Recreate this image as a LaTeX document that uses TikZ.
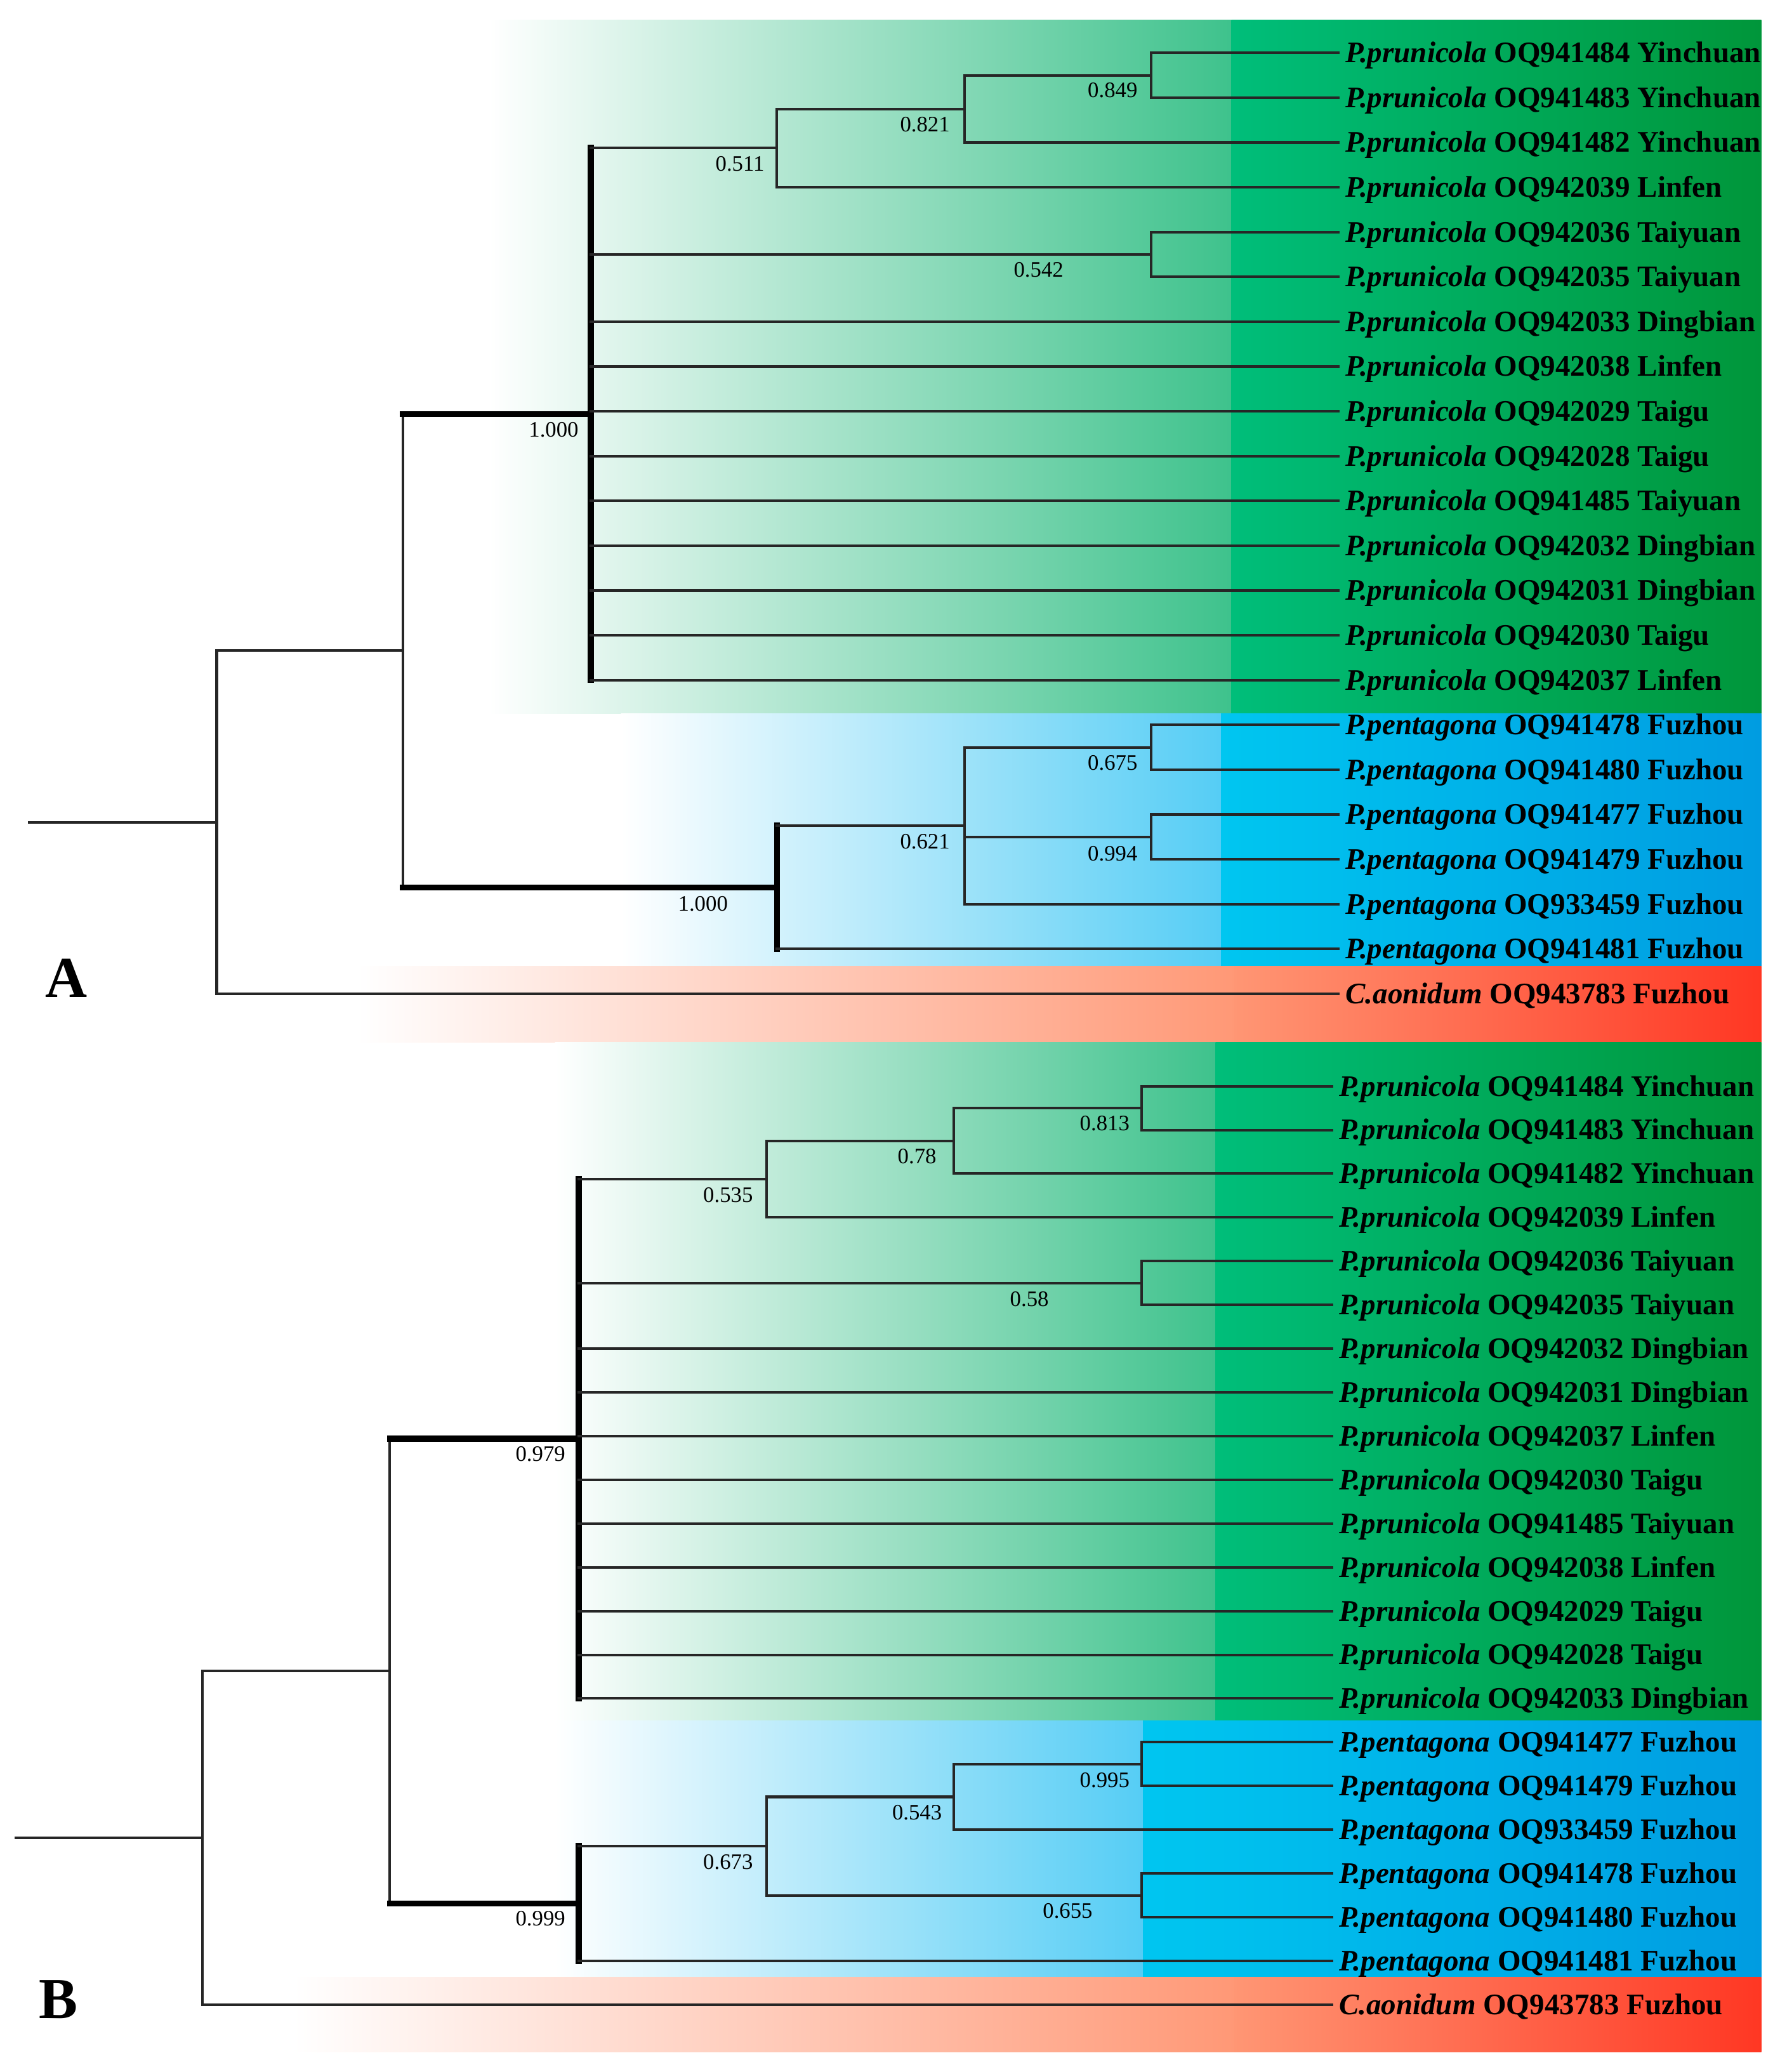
\documentclass[tikz,border=0pt]{standalone}
\usepackage{fontspec}
\setmainfont{Liberation Serif}
\usetikzlibrary{calc}
\definecolor{gmid}{RGB}{62,194,140}
\definecolor{gsat}{RGB}{0,190,122}
\definecolor{gend}{RGB}{0,150,58}
\definecolor{bmid}{RGB}{85,205,245}
\definecolor{bsat}{RGB}{0,198,240}
\definecolor{bend}{RGB}{0,156,225}
\definecolor{rmid}{RGB}{255,152,118}
\definecolor{rsat}{RGB}{255,150,116}
\definecolor{rend}{RGB}{255,55,35}
\begin{document}
\begin{tikzpicture}[x=0.02cm,y=-0.02cm,
  br/.style={line width=1.1pt, draw=black!85, line cap=rect},
  thk/.style={line width=2.6pt, draw=black, line cap=rect},
  leaf/.style={anchor=base west, inner sep=0pt, font=\fontsize{12.85}{14}\selectfont\bfseries},
  bs/.style={inner sep=0pt, font=\fontsize{9.5}{11}\selectfont},
  panel/.style={inner sep=0pt, font=\fontsize{25}{28}\selectfont\bfseries}]
\useasboundingbox (0,0) rectangle (1347,1568);
\fill[white] (0,0) rectangle (1347,1568);

% ---------- background bands, panel A ----------
\shade[left color=white, right color=gmid] (370,15) rectangle (933,540);
\shade[left color=gsat, right color=gend] (932,15) rectangle (1333,540);
\shade[left color=white, right color=bmid] (470,540) rectangle (925,731);
\shade[left color=bsat, right color=bend] (924,540) rectangle (1333,731);
\shade[left color=white, right color=rmid] (270,731) rectangle (935,789);
\shade[left color=rsat, right color=rend] (934,731) rectangle (1333,789);
% ---------- background bands, panel B ----------
\shade[left color=white, right color=gmid] (420,789) rectangle (921,1302);
\shade[left color=gsat, right color=gend] (920,789) rectangle (1333,1302);
\shade[left color=white, right color=bmid] (420,1302) rectangle (866,1496);
\shade[left color=bsat, right color=bend] (865,1302) rectangle (1333,1496);
\shade[left color=white, right color=rmid] (222,1496) rectangle (935,1553);
\shade[left color=rsat, right color=rend] (934,1496) rectangle (1333,1553);

% ---------- leaves, panel A ----------
\foreach \i/\g/\r in {
  0/P.prunicola/OQ941484 Yinchuan, 1/P.prunicola/OQ941483 Yinchuan,
  2/P.prunicola/OQ941482 Yinchuan, 3/P.prunicola/OQ942039 Linfen,
  4/P.prunicola/OQ942036 Taiyuan, 5/P.prunicola/OQ942035 Taiyuan,
  6/P.prunicola/OQ942033 Dingbian, 7/P.prunicola/OQ942038 Linfen,
  8/P.prunicola/OQ942029 Taigu, 9/P.prunicola/OQ942028 Taigu,
  10/P.prunicola/OQ941485 Taiyuan, 11/P.prunicola/OQ942032 Dingbian,
  12/P.prunicola/OQ942031 Dingbian, 13/P.prunicola/OQ942030 Taigu,
  14/P.prunicola/OQ942037 Linfen, 15/P.pentagona/OQ941478 Fuzhou,
  16/P.pentagona/OQ941480 Fuzhou, 17/P.pentagona/OQ941477 Fuzhou,
  18/P.pentagona/OQ941479 Fuzhou, 19/P.pentagona/OQ933459 Fuzhou,
  20/P.pentagona/OQ941481 Fuzhou, 21/C.aonidum/OQ943783 Fuzhou}{
  \coordinate (lA\i) at (1013,{40+33.905*\i});
  \node[leaf] (tA\i) at ($(lA\i)+(5,7.4)$) {\textit{\g} \r};
}
% ---------- leaves, panel B ----------
\foreach \i/\g/\r in {
  0/P.prunicola/OQ941484 Yinchuan, 1/P.prunicola/OQ941483 Yinchuan,
  2/P.prunicola/OQ941482 Yinchuan, 3/P.prunicola/OQ942039 Linfen,
  4/P.prunicola/OQ942036 Taiyuan, 5/P.prunicola/OQ942035 Taiyuan,
  6/P.prunicola/OQ942032 Dingbian, 7/P.prunicola/OQ942031 Dingbian,
  8/P.prunicola/OQ942037 Linfen, 9/P.prunicola/OQ942030 Taigu,
  10/P.prunicola/OQ941485 Taiyuan, 11/P.prunicola/OQ942038 Linfen,
  12/P.prunicola/OQ942029 Taigu, 13/P.prunicola/OQ942028 Taigu,
  14/P.prunicola/OQ942033 Dingbian, 15/P.pentagona/OQ941477 Fuzhou,
  16/P.pentagona/OQ941479 Fuzhou, 17/P.pentagona/OQ933459 Fuzhou,
  18/P.pentagona/OQ941478 Fuzhou, 19/P.pentagona/OQ941480 Fuzhou,
  20/P.pentagona/OQ941481 Fuzhou, 21/C.aonidum/OQ943783 Fuzhou}{
  \coordinate (lB\i) at (1008,{822+33.095*\i});
  \node[leaf] (tB\i) at ($(lB\i)+(5,7.4)$) {\textit{\g} \r};
}

% ---------- internal nodes, panel A ----------
\coordinate (sA) at (22,622.2);
\coordinate (rA) at (164,622.2);
\coordinate (n1A) at (305,492.4);
\coordinate (PA) at (447,313.4);
\coordinate (QA) at (588,671.5);
\coordinate (c511) at (588,112.0);
\coordinate (c821) at (730,82.4);
\coordinate (c849) at (871,56.95);
\coordinate (c542) at (871,192.55);
\coordinate (c621) at (730,624.9);
\coordinate (c675) at (871,565.55);
\coordinate (c994) at (871,633.35);

% ---------- internal nodes, panel B ----------
\coordinate (sB) at (12,1390.8);
\coordinate (rB) at (153,1390.8);
\coordinate (n1B) at (295,1264.6);
\coordinate (PB) at (438,1088.8);
\coordinate (QB) at (438,1440.45);
\coordinate (b535) at (580,892.35);
\coordinate (b78) at (722,863.4);
\coordinate (b813) at (864,838.55);
\coordinate (b58) at (864,970.95);
\coordinate (b673) at (580,1397.0);
\coordinate (b543) at (722,1359.8);
\coordinate (b995) at (864,1334.95);
\coordinate (b655) at (864,1434.25);

% ---------- branches, panel A ----------
\draw[br] (sA) -- (rA);
\draw[br] (rA |- n1A) -- (rA |- lA21);
\draw[br] (rA |- n1A) -- (n1A);
\draw[br] (rA |- lA21) -- (lA21);
\draw[br] (n1A |- PA) -- (n1A |- QA);
\draw[thk] (n1A |- PA) -- (PA);
\draw[thk] (n1A |- QA) -- (QA);
\draw[thk] (PA |- c511) -- (PA |- lA14);
\draw[br] (PA |- c511) -- (c511);
\draw[br] (PA |- c542) -- (c542);
\foreach \i in {6,...,14} \draw[br] (PA |- lA\i) -- (lA\i);
\draw[br] (c511 |- c821) -- (c511 |- lA3);
\draw[br] (c511 |- c821) -- (c821);
\draw[br] (c511 |- lA3) -- (lA3);
\draw[br] (c821 |- c849) -- (c821 |- lA2);
\draw[br] (c821 |- c849) -- (c849);
\draw[br] (c821 |- lA2) -- (lA2);
\draw[br] (c849 |- lA0) -- (c849 |- lA1);
\draw[br] (c849 |- lA0) -- (lA0);
\draw[br] (c849 |- lA1) -- (lA1);
\draw[br] (c542 |- lA4) -- (c542 |- lA5);
\draw[br] (c542 |- lA4) -- (lA4);
\draw[br] (c542 |- lA5) -- (lA5);
\draw[thk] (QA |- c621) -- (QA |- lA20);
\draw[br] (QA |- c621) -- (c621);
\draw[br] (QA |- lA20) -- (lA20);
\draw[br] (c621 |- c675) -- (c621 |- lA19);
\draw[br] (c621 |- c675) -- (c675);
\draw[br] (c621 |- c994) -- (c994);
\draw[br] (c621 |- lA19) -- (lA19);
\draw[br] (c675 |- lA15) -- (c675 |- lA16);
\draw[br] (c675 |- lA15) -- (lA15);
\draw[br] (c675 |- lA16) -- (lA16);
\draw[br] (c994 |- lA17) -- (c994 |- lA18);
\draw[br] (c994 |- lA17) -- (lA17);
\draw[br] (c994 |- lA18) -- (lA18);

% ---------- branches, panel B ----------
\draw[br] (sB) -- (rB);
\draw[br] (rB |- n1B) -- (rB |- lB21);
\draw[br] (rB |- n1B) -- (n1B);
\draw[br] (rB |- lB21) -- (lB21);
\draw[br] (n1B |- PB) -- (n1B |- QB);
\draw[thk] (n1B |- PB) -- (PB);
\draw[thk] (n1B |- QB) -- (QB);
\draw[thk] (PB |- b535) -- (PB |- lB14);
\draw[br] (PB |- b535) -- (b535);
\draw[br] (PB |- b58) -- (b58);
\foreach \i in {6,...,14} \draw[br] (PB |- lB\i) -- (lB\i);
\draw[br] (b535 |- b78) -- (b535 |- lB3);
\draw[br] (b535 |- b78) -- (b78);
\draw[br] (b535 |- lB3) -- (lB3);
\draw[br] (b78 |- b813) -- (b78 |- lB2);
\draw[br] (b78 |- b813) -- (b813);
\draw[br] (b78 |- lB2) -- (lB2);
\draw[br] (b813 |- lB0) -- (b813 |- lB1);
\draw[br] (b813 |- lB0) -- (lB0);
\draw[br] (b813 |- lB1) -- (lB1);
\draw[br] (b58 |- lB4) -- (b58 |- lB5);
\draw[br] (b58 |- lB4) -- (lB4);
\draw[br] (b58 |- lB5) -- (lB5);
\draw[thk] (QB |- b673) -- (QB |- lB20);
\draw[br] (QB |- b673) -- (b673);
\draw[br] (QB |- lB20) -- (lB20);
\draw[br] (b673 |- b543) -- (b673 |- b655);
\draw[br] (b673 |- b543) -- (b543);
\draw[br] (b673 |- b655) -- (b655);
\draw[br] (b543 |- b995) -- (b543 |- lB17);
\draw[br] (b543 |- b995) -- (b995);
\draw[br] (b543 |- lB17) -- (lB17);
\draw[br] (b995 |- lB15) -- (b995 |- lB16);
\draw[br] (b995 |- lB15) -- (lB15);
\draw[br] (b995 |- lB16) -- (lB16);
\draw[br] (b655 |- lB18) -- (b655 |- lB19);
\draw[br] (b655 |- lB18) -- (lB18);
\draw[br] (b655 |- lB19) -- (lB19);

% ---------- support values, panel A ----------
\node[bs] (vA849) at ($(c849)+(-29,11.5)$) {0.849};
\node[bs] (vA821) at ($(c821)+(-30,11.8)$) {0.821};
\node[bs] (vA511) at ($(c511)+(-28,12)$) {0.511};
\node[bs] (vA542) at ($(c542)+(-85,11.5)$) {0.542};
\node[bs] (vA1a) at ($(PA)+(-28,11.8)$) {1.000};
\node[bs] (vA675) at ($(c675)+(-29,12)$) {0.675};
\node[bs] (vA621) at ($(c621)+(-30,12)$) {0.621};
\node[bs] (vA994) at ($(c994)+(-29,12.5)$) {0.994};
\node[bs] (vA1b) at ($(QA)+(-56,12.5)$) {1.000};
% ---------- support values, panel B ----------
\node[bs] (vB813) at ($(b813)+(-28,11.5)$) {0.813};
\node[bs] (vB78) at ($(b78)+(-28,11.8)$) {0.78};
\node[bs] (vB535) at ($(b535)+(-29,11.8)$) {0.535};
\node[bs] (vB58) at ($(b58)+(-85,12)$) {0.58};
\node[bs] (vB979) at ($(PB)+(-29,11.5)$) {0.979};
\node[bs] (vB995) at ($(b995)+(-28,12)$) {0.995};
\node[bs] (vB543) at ($(b543)+(-28,12)$) {0.543};
\node[bs] (vB673) at ($(b673)+(-29,12)$) {0.673};
\node[bs] (vB655) at ($(b655)+(-56,12)$) {0.655};
\node[bs] (vB999) at ($(QB)+(-29,11.5)$) {0.999};

% ---------- panel letters ----------
\node[panel] (labA) at (50,740) {A};
\node[panel] (labB) at (44,1513) {B};
\end{tikzpicture}
\end{document}
